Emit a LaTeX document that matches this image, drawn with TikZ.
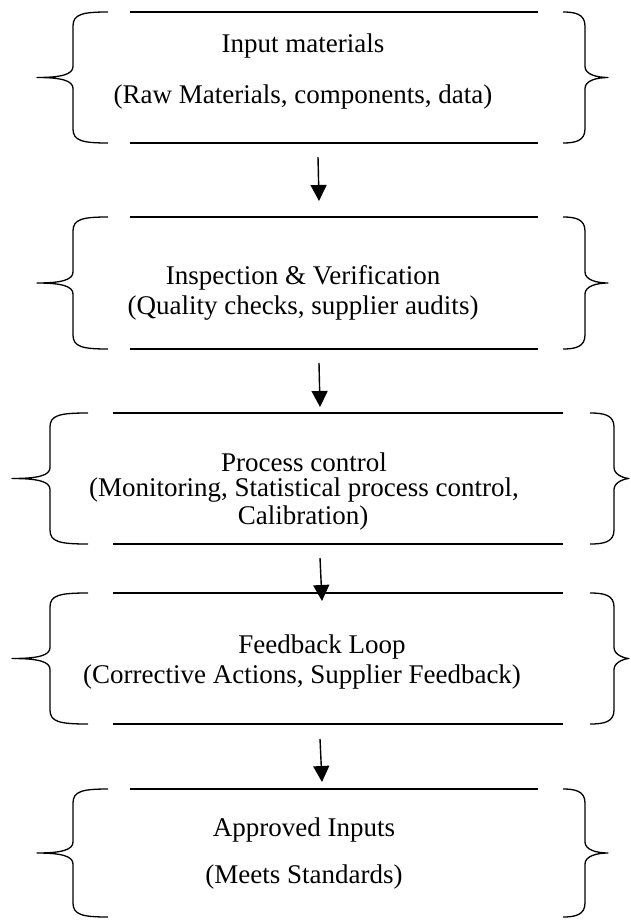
\documentclass[tikz,border=0pt]{standalone}
\usepackage{fontspec}
\setmainfont{Liberation Serif}
\usetikzlibrary{arrows.meta}
\tikzset{
    bar/.style={line width=2.8pt},
    curly/.style={line width=1.3pt, line join=round},
    flow/.style={-{Triangle[width=16pt,length=16pt]}, line width=1.4pt},
    txt/.style={inner sep=0pt, font=\fontsize{27}{32}\selectfont}
}
\begin{document}
\begin{tikzpicture}[x=1pt,y=-1pt]
        \useasboundingbox (0,0) rectangle (630,920);
        % bars
            \foreach \y/\l/\r in {12/130/538,143/130/538,217/130/538,349/130/538,
                                  413/113/563,544/113/563,593/113/563,724/113/563,
                                  789/130/538}{
                \draw[bar] (\l,\y) -- (\r,\y);
            }
        % braces
            \foreach \e/\s/\p/\t/\b in {108/73/37/12/143,563/585/608/12/143,
                                        108/73/37/217/349,563/585/608/217/349,
                                        88/50/12/413/544,590/614/629/413/544,
                                        88/50/12/593/724,590/614/629/593/724,
                                        108/73/37/789/917,563/585/608/789/917}{
                \pgfmathsetmacro\m{(\t+\b)/2}
                \pgfmathsetmacro\d{sign(\e-\s)}
                \draw[curly] (\e,\t) .. controls ({\s+10*\d},\t) and (\s,\t+2) .. (\s,\t+14)
                    -- (\s,\m-11) .. controls (\s,\m-3) and ({\s-12*\d},\m) .. (\p,\m)
                    .. controls ({\s-12*\d},\m) and (\s,\m+3) .. (\s,\m+11)
                    -- (\s,\b-14) .. controls (\s,\b-2) and ({\s+10*\d},\b) .. (\e,\b);
            }
        % texts
            \node[txt] (inA) at (303,46) {Input materials};
            \node[txt] (inB) at (303,97) {(Raw Materials, components, data)};
            \node[txt] (insA) at (303,278) {Inspection \& Verification};
            \node[txt] (insB) at (303,308) {(Quality checks, supplier audits)};
            \node[txt] (pcA) at (304,462) {Process control};
            \node[txt] (pcB) at (304,490) {(Monitoring, Statistical process control,};
            \node[txt] (pcC) at (303,518) {Calibration)};
            \node[txt] (fbA) at (322,647) {Feedback Loop};
            \node[txt] (fbB) at (302,677) {(Corrective Actions, Supplier Feedback)};
            \node[txt] (apA) at (304,830) {Approved Inputs};
            \node[txt] (apB) at (304,877) {(Meets Standards)};
        % arrows
            \foreach \i/\xa/\ya/\xb/\yb in {1/318/157/319/201,2/319/363/320/407,
                                            3/320/558/322/601,4/320/739/322/782}{
                \coordinate (s\i) at (\xa,\ya);
                \coordinate (e\i) at (\xb,\yb);
                \draw[flow] (s\i) -- (e\i);
            }
\end{tikzpicture}
\end{document}
